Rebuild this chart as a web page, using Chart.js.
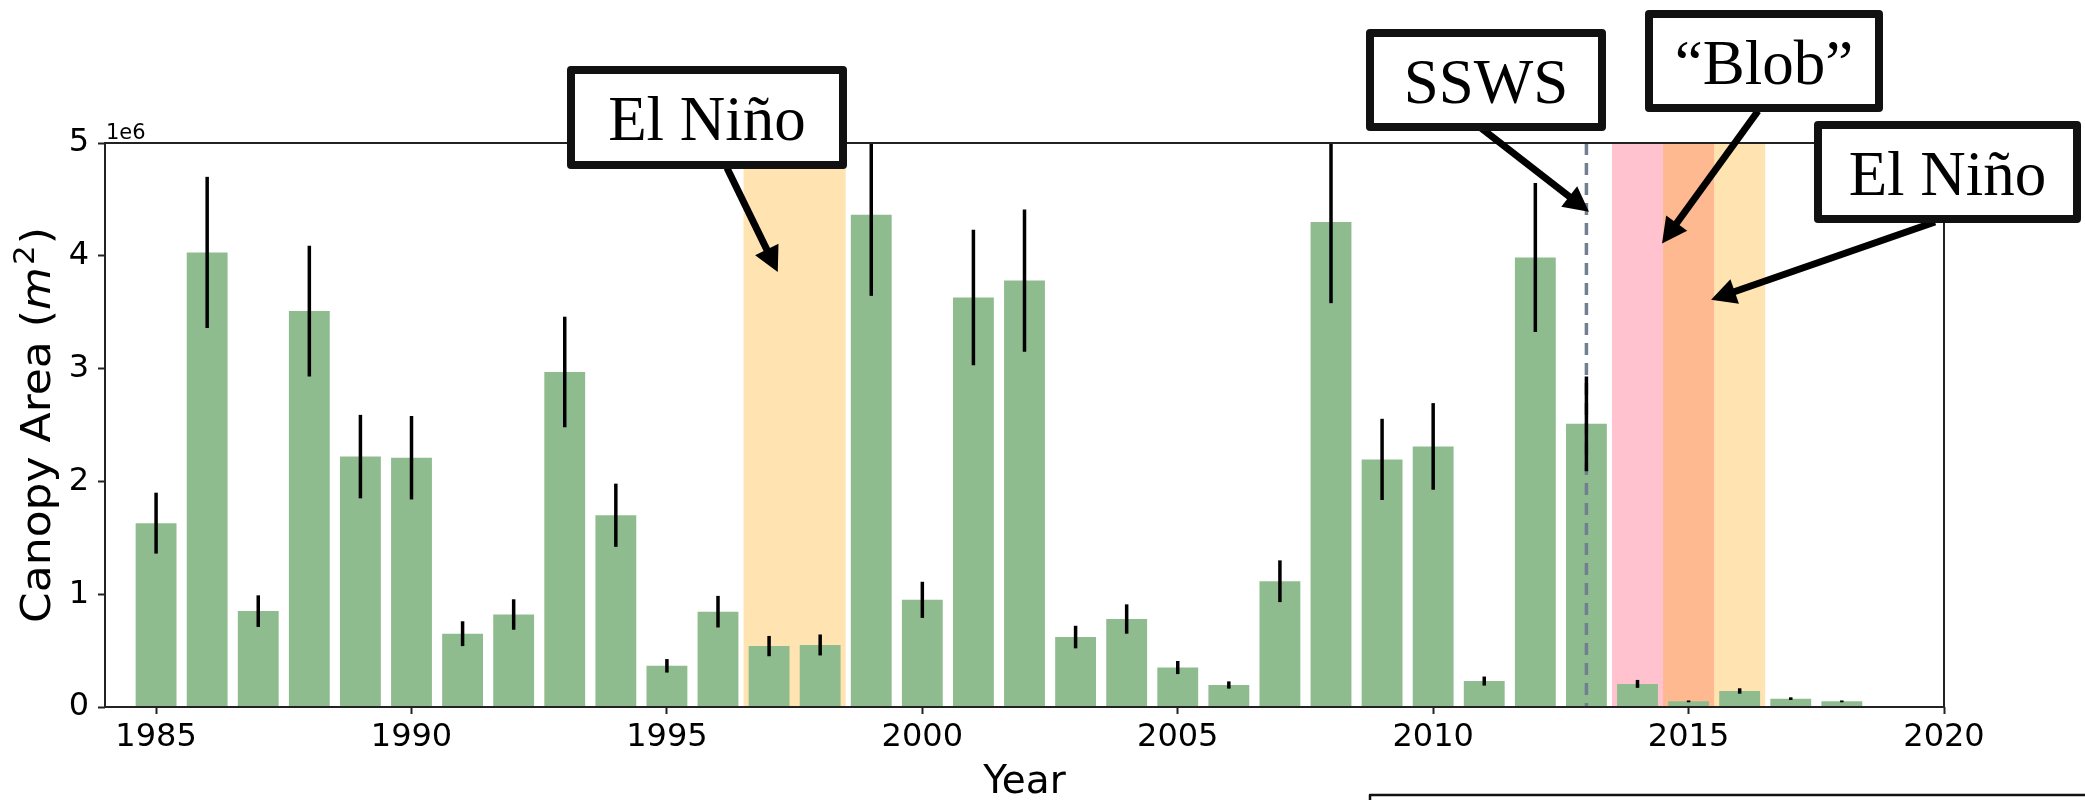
<!DOCTYPE html>
<html>
<head>
<meta charset="utf-8">
<script src="https://cdn.jsdelivr.net/npm/chart.js@4.4.1/dist/chart.umd.min.js"></script>
<style>
  html, body { margin: 0; padding: 0; background: #fff; overflow: hidden; }
  canvas { display: block; }
</style>
</head>
<body>
<canvas id="c" width="2085" height="800"></canvas>
<script>
// Annual kelp canopy area (m²) with its uncertainty
const years = [1985, 1986, 1987, 1988, 1989, 1990, 1991, 1992, 1993, 1994,
               1995, 1996, 1997, 1998, 1999, 2000, 2001, 2002, 2003, 2004,
               2005, 2006, 2007, 2008, 2009, 2010, 2011, 2012, 2013, 2014,
               2015, 2016, 2017, 2018, 2019];
const canopyArea = [1630000, 4030000, 850000, 3510000, 2220000, 2210000, 650000, 820000, 2970000, 1700000,
                    365000, 845000, 540000, 550000, 4365000, 950000, 3630000, 3780000, 620000, 780000,
                    350000, 195000, 1115000, 4300000, 2195000, 2310000, 230000, 3985000, 2510000, 205000,
                    50000, 142000, 74000, 50000, 4000];
const canopyErr = [270000, 670000, 140000, 580000, 370000, 370000, 110000, 135000, 490000, 280000,
                   60000, 140000, 90000, 93000, 720000, 160000, 600000, 630000, 100000, 130000,
                   58000, 32000, 185000, 720000, 360000, 384000, 40000, 660000, 420000, 35000,
                   8000, 24000, 12000, 8000, 1000];

// Axis ticks
const xTickYears = [1985, 1990, 1995, 2000, 2005, 2010, 2015, 2020];
const yTickValues = [0, 1000000, 2000000, 3000000, 4000000, 5000000];

// Climate events (years)
const elNinoSpans = [[1996.5, 1998.5], [2014.5, 2016.5]];
const blobSpan = [2013.5, 2015.5];
const sswsYear = 2013;

// Callouts: label, box (px), arrow tail (px), arrow tip (year, m²)
const callouts = [
  { text: 'El Niño', box: [567, 66, 847, 169],   tail: [727, 168],  tip: [1997.17, 3856000] },
  { text: 'SSWS',    box: [1366, 29, 1606, 131], tail: [1481, 128], tip: [2013.05, 4390000] },
  { text: '\u201CBlob\u201D', box: [1645, 10, 1883, 112], tail: [1758, 111], tip: [2014.48, 4110000] },
  { text: 'El Niño', box: [1814, 121, 2081, 223], tail: [1935, 222], tip: [2015.44, 3610000] }
];

const AXIS_FONT = '"DejaVu Sans", "Liberation Sans", sans-serif';
const SERIF_FONT = '"Liberation Serif", "Times New Roman", serif';

function drawArrow(ctx, x0, y0, x1, y1) {
  const ang = Math.atan2(y1 - y0, x1 - x0);
  const hl = 25, hw = 13;
  const bx = x1 - hl * Math.cos(ang), by = y1 - hl * Math.sin(ang);
  ctx.strokeStyle = '#000';
  ctx.fillStyle = '#000';
  ctx.lineWidth = 7;
  ctx.lineCap = 'butt';
  ctx.beginPath();
  ctx.moveTo(x0, y0);
  ctx.lineTo(bx + 2 * Math.cos(ang), by + 2 * Math.sin(ang));
  ctx.stroke();
  ctx.beginPath();
  ctx.moveTo(x1, y1);
  ctx.lineTo(bx + hw * Math.sin(ang), by - hw * Math.cos(ang));
  ctx.lineTo(bx - hw * Math.sin(ang), by + hw * Math.cos(ang));
  ctx.closePath();
  ctx.fill();
}

function drawBox(ctx, b, text) {
  const lw = 8;
  const x0 = b[0] + lw / 2, y0 = b[1] + lw / 2, x1 = b[2] - lw / 2, y1 = b[3] - lw / 2;
  ctx.fillStyle = '#fff';
  ctx.fillRect(x0, y0, x1 - x0, y1 - y0);
  ctx.strokeStyle = '#111';
  ctx.lineWidth = lw;
  ctx.lineJoin = 'round';
  ctx.strokeRect(x0, y0, x1 - x0, y1 - y0);
  ctx.fillStyle = '#000';
  ctx.font = `63px ${SERIF_FONT}`;
  ctx.textAlign = 'center';
  ctx.textBaseline = 'alphabetic';
  ctx.fillText(text, (b[0] + b[2]) / 2, (b[1] + b[3]) / 2 + 22.7);
}

function drawYTitle(ctx, cx, cy) {
  const size = 40;
  const stretch = 1.1;
  const parts = [
    ['Canopy Area (', `${size}px ${AXIS_FONT}`, 0],
    ['m', `italic ${size}px ${AXIS_FONT}`, 0],
    ['2', `${Math.round(size * 0.7)}px ${AXIS_FONT}`, -0.4 * size],
    [')', `${size}px ${AXIS_FONT}`, 0]
  ];
  let total = 0;
  const widths = parts.map(p => { ctx.font = p[1]; const w = ctx.measureText(p[0]).width; total += w; return w; });
  total += 3;
  ctx.save();
  ctx.translate(cx, cy);
  ctx.rotate(-Math.PI / 2);
  ctx.scale(stretch, 1);
  ctx.fillStyle = '#000';
  ctx.textAlign = 'left';
  ctx.textBaseline = 'alphabetic';
  let x = -total / 2;
  parts.forEach((p, i) => {
    ctx.font = p[1];
    if (i === 2) x += 2;
    if (i === 3) x += 1;
    ctx.fillText(p[0], x, p[2]);
    x += widths[i];
  });
  ctx.restore();
}

const eventsPlugin = {
  id: 'events',
  beforeDatasetsDraw(chart) {
    const { ctx, chartArea: a, scales: { x } } = chart;
    ctx.save();
    ctx.beginPath();
    ctx.rect(a.left, a.top, a.right - a.left, a.bottom - a.top);
    ctx.clip();
    const band = (s, e, color) => {
      const x0 = x.getPixelForValue(s), x1 = x.getPixelForValue(e);
      ctx.fillStyle = color;
      ctx.fillRect(x0, a.top, x1 - x0, a.bottom - a.top);
    };
    band(elNinoSpans[0][0], elNinoSpans[0][1], 'rgba(255,165,0,0.3)');
    band(blobSpan[0], blobSpan[1], '#FFC2CE');
    band(elNinoSpans[1][0], elNinoSpans[1][1], 'rgba(255,165,0,0.3)');
    ctx.restore();
  },
  afterDatasetsDraw(chart) {
    const { ctx, chartArea: a, scales: { x, y } } = chart;
    ctx.save();
    ctx.beginPath();
    ctx.rect(a.left, a.top, a.right - a.left, a.bottom - a.top);
    ctx.clip();
    // SSWS onset marker
    const sx = x.getPixelForValue(sswsYear);
    ctx.strokeStyle = '#708090';
    ctx.lineWidth = 3.5;
    ctx.setLineDash([12, 8]);
    ctx.beginPath();
    ctx.moveTo(sx, a.top);
    ctx.lineTo(sx, a.bottom);
    ctx.stroke();
    ctx.setLineDash([]);
    // error bars
    ctx.strokeStyle = '#000';
    ctx.lineWidth = 3.5;
    years.forEach((yr, i) => {
      const px = x.getPixelForValue(yr);
      const lo = y.getPixelForValue(canopyArea[i] - canopyErr[i]);
      const hi = y.getPixelForValue(canopyArea[i] + canopyErr[i]);
      ctx.beginPath();
      ctx.moveTo(px, lo);
      ctx.lineTo(px, hi);
      ctx.stroke();
    });
    ctx.restore();
  },
  afterDraw(chart) {
    const { ctx, chartArea: a, scales: { x, y } } = chart;
    ctx.save();
    // frame
    ctx.strokeStyle = '#222';
    ctx.lineWidth = 2;
    ctx.strokeRect(a.left, a.top, a.right - a.left, a.bottom - a.top);
    // offset text
    ctx.fillStyle = '#000';
    ctx.font = `21px ${AXIS_FONT}`;
    ctx.textAlign = 'left';
    ctx.textBaseline = 'alphabetic';
    ctx.fillText('1e6', a.left + 1, a.top - 4);
    // axis titles
    ctx.font = `39px ${AXIS_FONT}`;
    ctx.textAlign = 'center';
    ctx.fillText('Year', (a.left + a.right) / 2, 793);
    drawYTitle(ctx, 50, (a.top + a.bottom) / 2);
    // callouts
    callouts.forEach(c => {
      drawArrow(ctx, c.tail[0], c.tail[1], x.getPixelForValue(c.tip[0]), y.getPixelForValue(c.tip[1]));
    });
    callouts.forEach(c => drawBox(ctx, c.box, c.text));
    // edge of the neighbouring panel frame
    ctx.strokeStyle = '#111';
    ctx.lineWidth = 2.5;
    ctx.strokeRect(1370, 795, 800, 100);
    ctx.restore();
  }
};

new Chart(document.getElementById('c'), {
  type: 'bar',
  data: {
    datasets: [{
      data: years.map((yr, i) => ({ x: yr, y: canopyArea[i] })),
      backgroundColor: '#8FBC8F',
      borderWidth: 0,
      barPercentage: 0.8,
      categoryPercentage: 1.0
    }]
  },
  options: {
    responsive: false,
    devicePixelRatio: 1,
    animation: false,
    layout: { padding: { left: 0, top: 143, right: 141, bottom: 0 } },
    plugins: { legend: { display: false }, tooltip: { enabled: false } },
    scales: {
      x: {
        type: 'linear',
        min: 1984,
        max: 2020,
        offset: false,
        afterFit: s => { s.height = 93; },
        afterBuildTicks: s => { s.ticks = xTickYears.map(v => ({ value: v })); },
        grid: { display: true, drawOnChartArea: false, drawTicks: true, tickLength: 7, tickColor: '#222', tickWidth: 2, offset: false },
        border: { display: false },
        ticks: {
          autoSkip: false, maxRotation: 0, padding: 4, color: '#000',
          font: { family: 'DejaVu Sans', size: 32 },
          callback: v => String(v)
        }
      },
      y: {
        type: 'linear',
        min: 0,
        max: 5000000,
        afterFit: s => { s.width = 105; },
        afterBuildTicks: s => { s.ticks = yTickValues.map(v => ({ value: v })); },
        grid: { display: true, drawOnChartArea: false, drawTicks: true, tickLength: 7, tickColor: '#222', tickWidth: 2 },
        border: { display: false },
        ticks: {
          padding: 9, color: '#000',
          font: { family: 'DejaVu Sans', size: 32 },
          callback: v => String(v / 1000000)
        }
      }
    }
  },
  plugins: [eventsPlugin]
});
</script>
</body>
</html>
